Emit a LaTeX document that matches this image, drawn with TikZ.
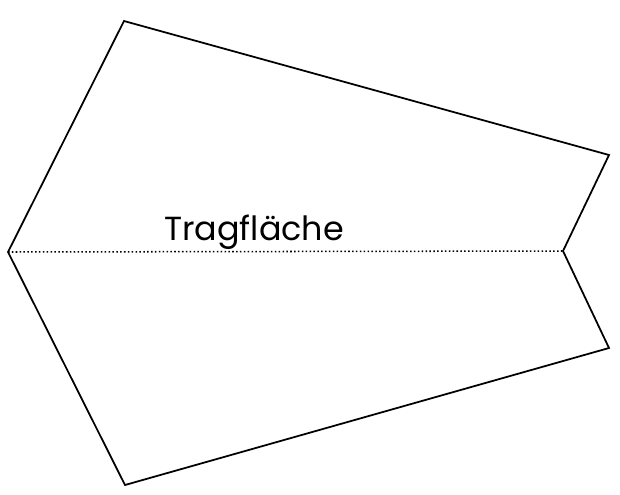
\documentclass[tikz,border=0pt]{standalone}
\usepackage{fontspec}
\setmainfont{Poppins}
\usetikzlibrary{positioning}

\begin{document}
\begin{tikzpicture}[x=0.03cm,y=-0.03cm,
  outline/.style={draw,line width=1.5pt,line join=miter},
  fold/.style={dotted,line width=1.3pt},
  label/.style={font=\fontsize{28.5}{34}\selectfont,inner sep=0pt,anchor=base west}]
  \useasboundingbox (0,0) rectangle (620,494);

  % Eckpunkte des Flügels
  \coordinate (nose) at (8,252);
  \coordinate (top) at (124,21);
  \coordinate (rtop) at (609,155);
  \coordinate (notch) at (563,251);
  \coordinate (rbot) at (609,348);
  \coordinate (bot) at (125,485);

  \draw[outline] (nose) -- (top) -- (rtop) -- (notch) -- (rbot) -- (bot) -- cycle;
  \draw[fold] (nose) -- (notch);

  \node[label] (wing) at (164,240) {Tragfläche};
\end{tikzpicture}
\end{document}
